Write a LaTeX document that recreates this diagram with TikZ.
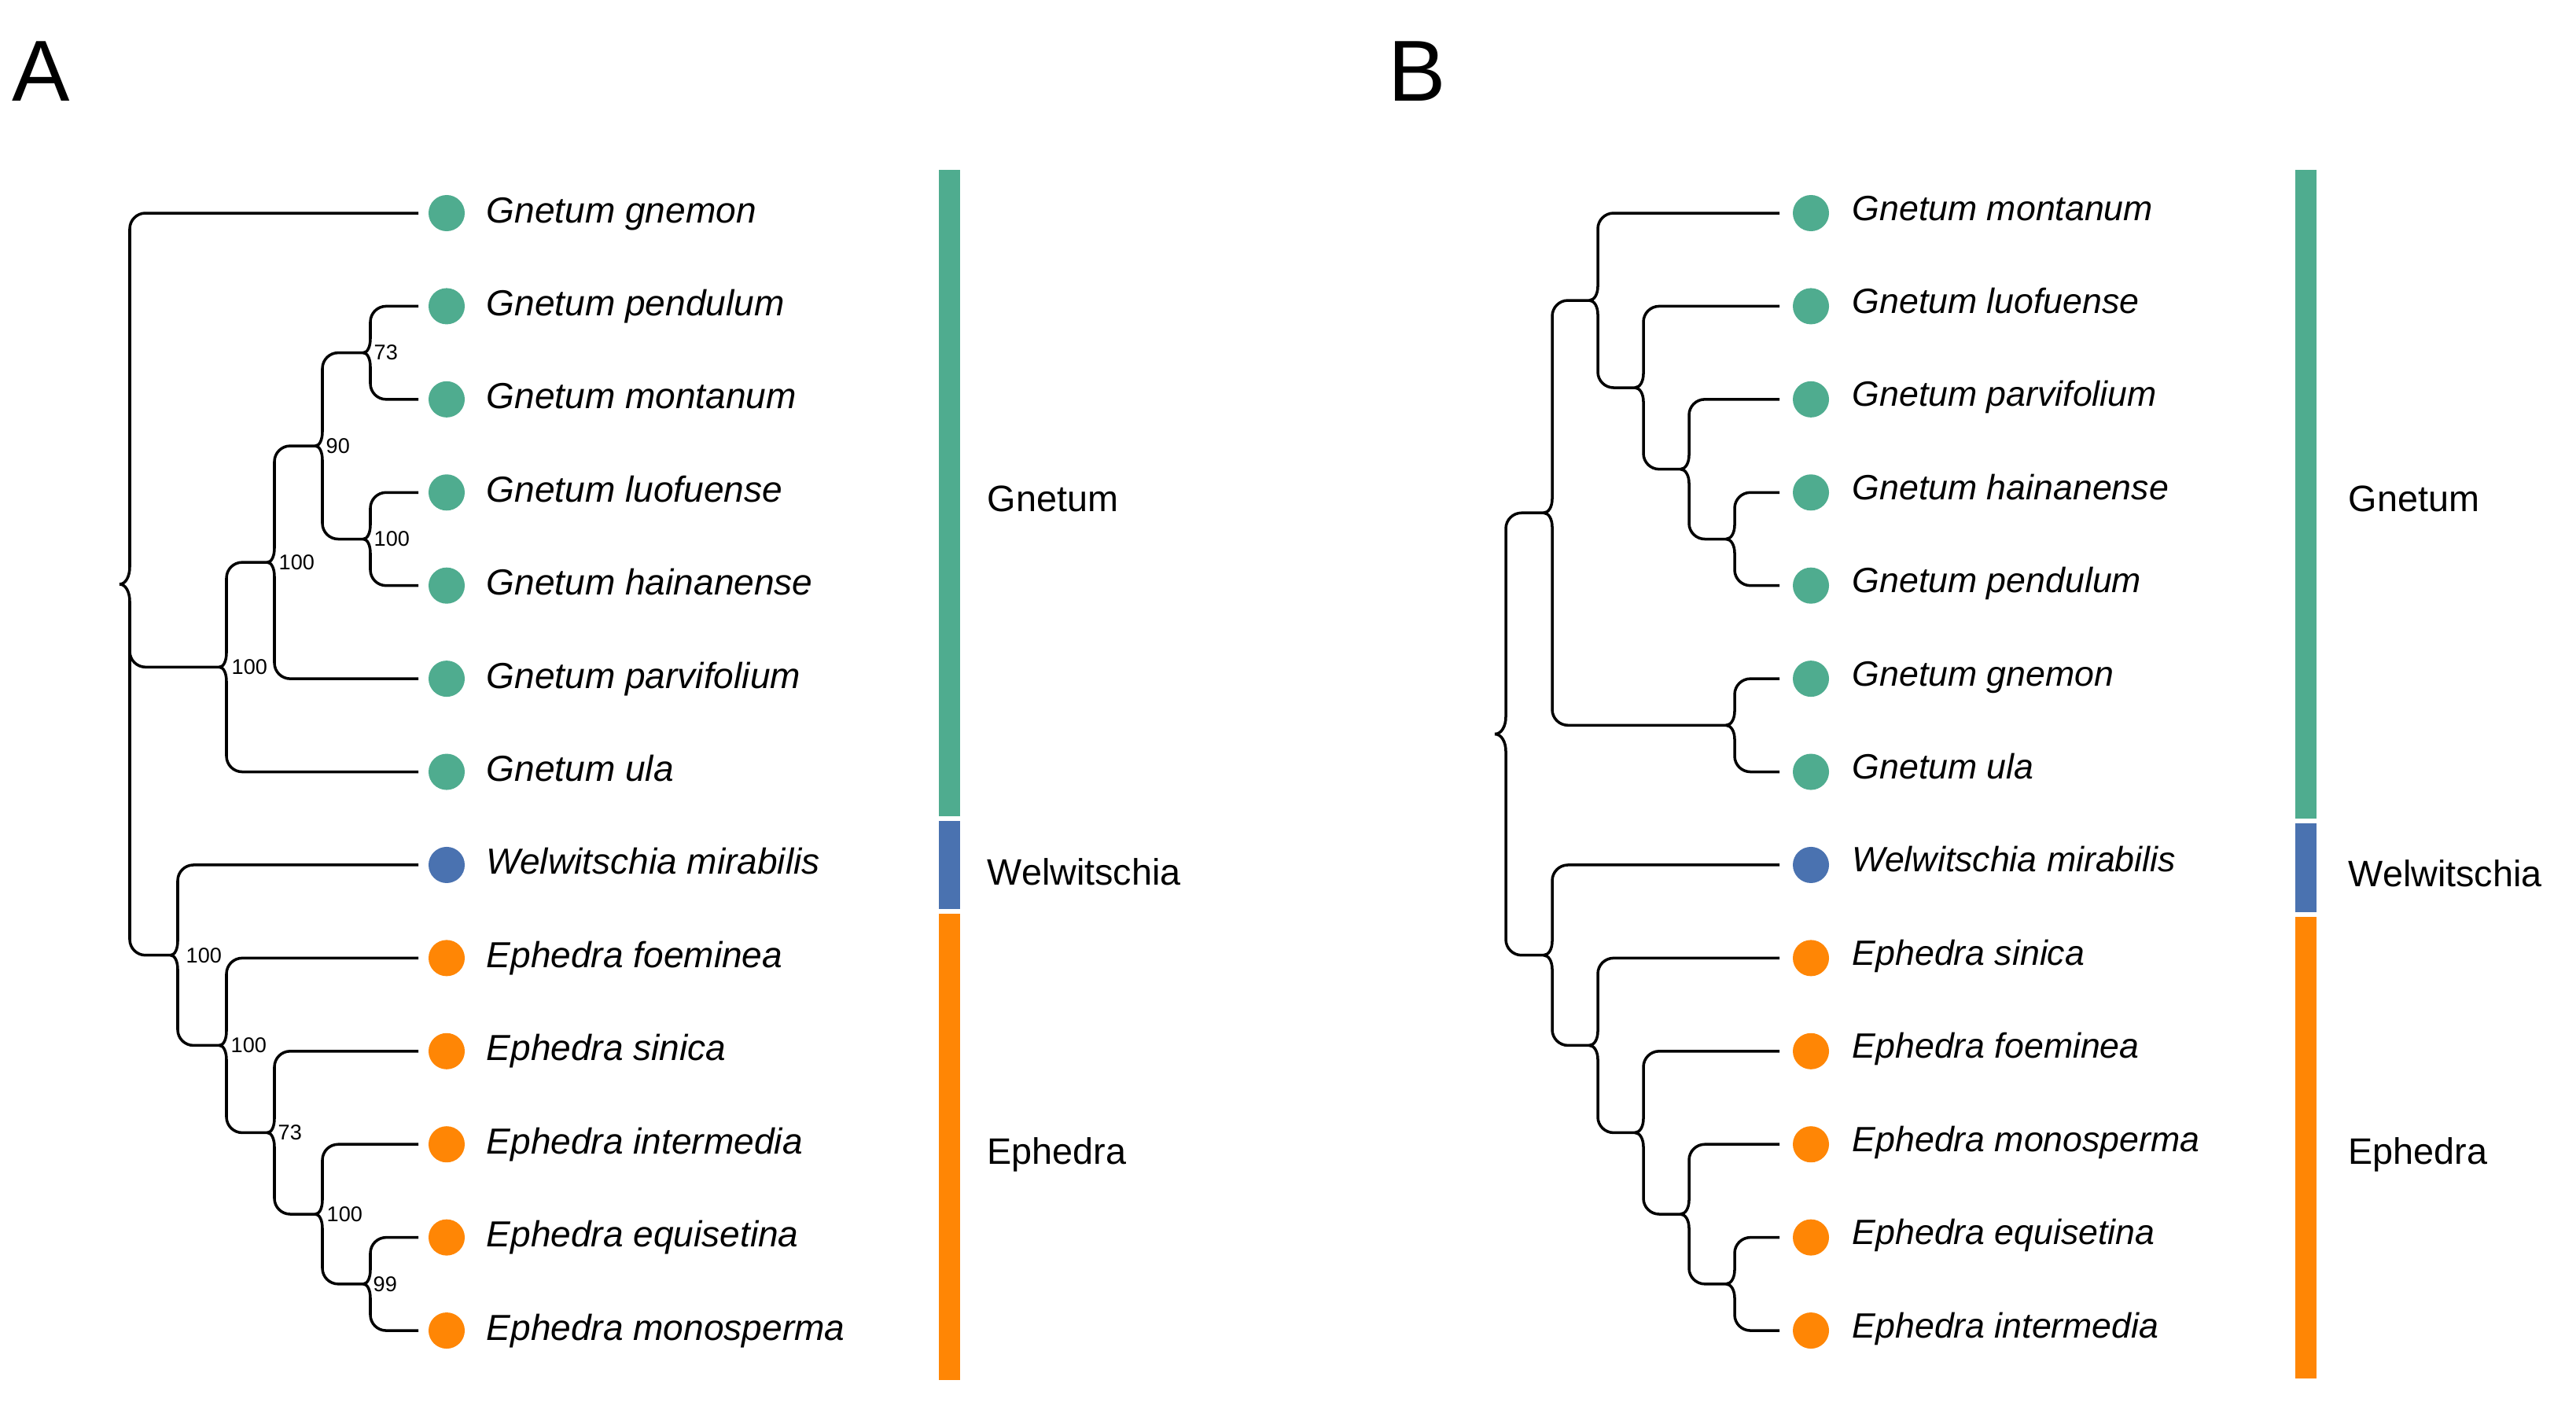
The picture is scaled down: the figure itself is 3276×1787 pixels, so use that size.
\documentclass[tikz,border=0pt]{standalone}
\usepackage{fontspec}
\setmainfont{Liberation Sans}
\usetikzlibrary{calc}
\definecolor{cgn}{HTML}{4FAC8F}
\definecolor{cwe}{HTML}{4A72B0}
\definecolor{cep}{HTML}{FF8605}
\newcommand\clade[5]{%
  \draw[br] (#1) .. controls ($(#1)+(0.6*#4,0)$) and ($(#1)+(#4,-0.45*#5)$) .. ($(#1)+(#4,-#5)$) [rounded corners=0.2cm] |- (#2);
  \draw[br] (#1) .. controls ($(#1)+(0.6*#4,0)$) and ($(#1)+(#4,0.45*#5)$) .. ($(#1)+(#4,#5)$) [rounded corners=0.2cm] |- (#3);}
\begin{document}
\begin{tikzpicture}[x=0.01cm,y=-0.01cm,
  br/.style={line width=1pt,black},
  dot/.style={circle,minimum size=0.46cm,inner sep=0,draw=none},
  sp/.style={anchor=base west,inner sep=0,font=\fontsize{13.1}{15}\selectfont\itshape},
  spb/.style={anchor=base west,inner sep=0,font=\fontsize{12.7}{15}\selectfont\itshape},
  cl/.style={anchor=base west,inner sep=0,font=\fontsize{13.3}{15}\selectfont},
  bs/.style={anchor=west,inner sep=0,font=\fontsize{7.7}{9}\selectfont},
  pl/.style={anchor=base west,inner sep=0,font=\fontsize{31.3}{34}\selectfont}]
\useasboundingbox (0,0) rectangle (3276,1787);

% panel labels
\node[pl] (panelA) at (15,128) {A};
\node[pl] (panelB) at (1765,128) {B};

% ---------- Panel A leaves ----------
\foreach \i/\nm/\col in {1/Gnetum gnemon/cgn,2/Gnetum pendulum/cgn,3/Gnetum montanum/cgn,
  4/Gnetum luofuense/cgn,5/Gnetum hainanense/cgn,6/Gnetum parvifolium/cgn,7/Gnetum ula/cgn,
  8/Welwitschia mirabilis/cwe,9/Ephedra foeminea/cep,10/Ephedra sinica/cep,
  11/Ephedra intermedia/cep,12/Ephedra equisetina/cep,13/Ephedra monosperma/cep}{
  \coordinate (la\i) at (532,{271+118.42*(\i-1)});
  \node[dot,fill=\col] (da\i) at (568,{271+118.42*(\i-1)}) {};
  \node[sp] (ta\i) at (618,{283+118.42*(\i-1)}) {\nm};
}
% ---------- Panel A internal nodes ----------
\coordinate (g73) at (462,448.6);
\coordinate (g100a) at (462,685.5);
\coordinate (g90) at (401,567.05);
\coordinate (g100b) at (340,715.1);
\coordinate (g100c) at (279,848.3);
\coordinate (a5) at (462,1632.8);
\coordinate (a4) at (401,1544);
\coordinate (a3) at (340,1440.4);
\coordinate (a2) at (279,1329.4);
\coordinate (a1) at (217,1214.7);
\coordinate (rA) at (152,742.9);

\clade{g73}{la2}{la3}{9}{18}
\clade{g100a}{la4}{la5}{9}{18}
\clade{g90}{g73}{g100a}{9}{18}
\clade{g100b}{g90}{la6}{9}{18}
\clade{g100c}{g100b}{la7}{9}{18}
\clade{a5}{la12}{la13}{9}{18}
\clade{a4}{la11}{a5}{9}{18}
\clade{a3}{la10}{a4}{9}{18}
\clade{a2}{la9}{a3}{9}{18}
\clade{a1}{la8}{a2}{9}{18}
\clade{rA}{la1}{a1}{13}{22}
\coordinate (rAmid) at ($(rA)+(13,40)$);
\draw[br,rounded corners=0.2cm] (rAmid) |- (g100c);

\node[bs] (sg73) at ($(g73)+(13,0)$) {73};
\node[bs] (sg100a) at ($(g100a)+(13,0)$) {100};
\node[bs] (sg90) at ($(g90)+(13,0)$) {90};
\node[bs] (sg100b) at ($(g100b)+(14,0)$) {100};
\node[bs] (sg100c) at ($(g100c)+(15,0)$) {100};
\node[bs] (sa1) at ($(a1)+(19,0)$) {100};
\node[bs] (sa2) at ($(a2)+(14,0)$) {100};
\node[bs] (sa3) at ($(a3)+(13,0)$) {73};
\node[bs] (sa4) at ($(a4)+(14,0)$) {100};
\node[bs] (sa5) at ($(a5)+(12,0)$) {99};

% bars A
\fill[cgn] (1194,216) rectangle (1221,1038);
\fill[cwe] (1194,1044) rectangle (1221,1156);
\fill[cep] (1194,1162) rectangle (1221,1755);
\node[cl] (cgA) at (1255,650) {Gnetum};
\node[cl] (cwA) at (1255,1125) {Welwitschia};
\node[cl] (ceA) at (1255,1480) {Ephedra};

% ---------- Panel B leaves ----------
\foreach \i/\nm/\col in {1/Gnetum montanum/cgn,2/Gnetum luofuense/cgn,3/Gnetum parvifolium/cgn,
  4/Gnetum hainanense/cgn,5/Gnetum pendulum/cgn,6/Gnetum gnemon/cgn,7/Gnetum ula/cgn,
  8/Welwitschia mirabilis/cwe,9/Ephedra sinica/cep,10/Ephedra foeminea/cep,
  11/Ephedra monosperma/cep,12/Ephedra equisetina/cep,13/Ephedra intermedia/cep}{
  \coordinate (lb\i) at (2263,{271+118.42*(\i-1)});
  \node[dot,fill=\col] (db\i) at (2303,{271+118.42*(\i-1)}) {};
  \node[spb] (tb\i) at (2355,{280+118.42*(\i-1)}) {\nm};
}
% ---------- Panel B internal nodes ----------
\coordinate (b4) at (2195,685.5);
\coordinate (b3) at (2137,596.65);
\coordinate (b2) at (2079,493);
\coordinate (b1) at (2021,382);
\coordinate (bg) at (2195,922.3);
\coordinate (bG) at (1963,652.2);
\coordinate (be4) at (2195,1632.8);
\coordinate (be3) at (2137,1544);
\coordinate (be2) at (2079,1440.4);
\coordinate (be1) at (2021,1329.4);
\coordinate (bWE) at (1963,1214.7);
\coordinate (rB) at (1901,933.5);

\clade{b4}{lb4}{lb5}{11}{18}
\clade{b3}{lb3}{b4}{11}{18}
\clade{b2}{lb2}{b3}{11}{18}
\clade{b1}{lb1}{b2}{11}{18}
\clade{bg}{lb6}{lb7}{11}{18}
\clade{bG}{b1}{bg}{11}{18}
\clade{be4}{lb12}{lb13}{11}{18}
\clade{be3}{lb11}{be4}{11}{18}
\clade{be2}{lb10}{be3}{11}{18}
\clade{be1}{lb9}{be2}{11}{18}
\clade{bWE}{lb8}{be1}{11}{18}
\clade{rB}{bG}{bWE}{14}{22}

% bars B
\fill[cgn] (2919,216) rectangle (2946,1041);
\fill[cwe] (2919,1047) rectangle (2946,1160);
\fill[cep] (2919,1166) rectangle (2946,1753);
\node[cl] (cgB) at (2986,650) {Gnetum};
\node[cl] (cwB) at (2986,1127) {Welwitschia};
\node[cl] (ceB) at (2986,1480) {Ephedra};
\end{tikzpicture}
\end{document}
